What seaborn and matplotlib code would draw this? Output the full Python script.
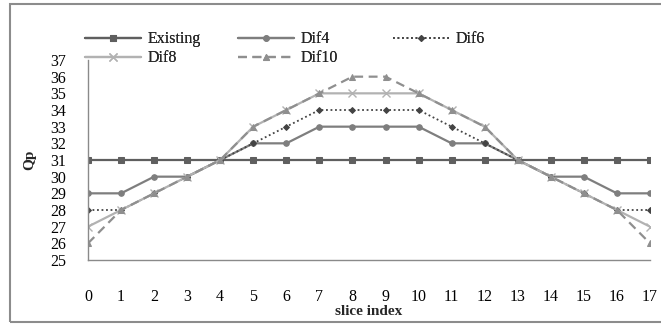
import matplotlib
matplotlib.use("Agg")
import matplotlib.pyplot as plt
import matplotlib.patches as mpatches
import seaborn as sns
import pandas as pd

slices = list(range(18))
existing = [31] * 18
dif4 = [29, 29, 30, 30, 31, 32, 32, 33, 33, 33, 33, 32, 32, 31, 30, 30, 29, 29]
dif6 = [28, 28, 29, 30, 31, 32, 33, 34, 34, 34, 34, 33, 32, 31, 30, 29, 28, 28]
dif8 = [27, 28, 29, 30, 31, 33, 34, 35, 35, 35, 35, 34, 33, 31, 30, 29, 28, 27]
dif10 = [26, 28, 29, 30, 31, 33, 34, 35, 36, 36, 35, 34, 33, 31, 30, 29, 28, 26]
y_ticks = list(range(25, 38))

sns.set_theme(style="white")
plt.rcParams["font.family"] = ["Liberation Serif", "DejaVu Serif"]

fig = plt.figure(figsize=(6.61, 3.24), dpi=100)
ax = fig.add_axes([88 / 661, (324 - 260) / 324, (650 - 88) / 661, 200 / 324])

series = [
    ("Existing", existing, dict(color="#5f5f5f", marker="s", markersize=4.5, linestyle="-", linewidth=1.6)),
    ("Dif4", dif4, dict(color="#7e7e7e", marker="o", markersize=4.0, linestyle="-", linewidth=1.6)),
    ("Dif6", dif6, dict(color="#444444", marker="D", markersize=3.0, linestyle=(0, (1, 1.5)), linewidth=1.3)),
    ("Dif8", dif8, dict(color="#b2b2b2", marker="x", markersize=5.5, markeredgewidth=1.0, linestyle="-", linewidth=1.6)),
    ("Dif10", dif10, dict(color="#8f8f8f", marker="^", markersize=4.5, linestyle=(0, (4, 2.5)), linewidth=1.6)),
]

handles = {}
for name, vals, style in series:
    df = pd.DataFrame({"slice index": slices, "Qp": vals})
    sns.lineplot(data=df, x="slice index", y="Qp", ax=ax, legend=False,
                 markeredgecolor=style["color"], **style)
    handles[name] = ax.get_lines()[-1]

ax.set_xlim(0, 17)
ax.set_ylim(25, 37)
ax.set_xticks(slices)
ax.set_yticks(y_ticks)
ax.tick_params(axis="both", length=0, labelsize=11.5, colors="#000000")
ax.tick_params(axis="x", pad=21)
ax.tick_params(axis="y", pad=16)
for side in ("top", "right"):
    ax.spines[side].set_visible(False)
for side in ("left", "bottom"):
    ax.spines[side].set_color("#8a8a8a")
    ax.spines[side].set_linewidth(1.0)
ax.set_facecolor("white")

ax.set_xlabel("slice index", fontsize=11, fontweight="bold", labelpad=0)
ax.set_ylabel("Qp", fontsize=11, fontweight="bold", labelpad=10)

legend_cols = [
    (["Existing", "Dif8"], 82),
    (["Dif4", "Dif10"], 235),
    (["Dif6"], 390),
]
for names, xpx in legend_cols:
    leg = fig.legend([handles[n] for n in names], names,
                     loc="upper left", bbox_to_anchor=(xpx / 661, 1 - 28 / 324),
                     frameon=False, fontsize=11.5, handlelength=3.5,
                     handletextpad=0.4, labelspacing=0.2, borderpad=0.2,
                     borderaxespad=0)
    fig.add_artist(leg)

frame = mpatches.Rectangle((10 / 661, 2 / 324), 1.0, (320 - 2) / 324,
                           transform=fig.transFigure, fill=False,
                           edgecolor="#8c8c8c", linewidth=1.5, clip_on=False)
fig.add_artist(frame)

fig.savefig("out.png", dpi=100, facecolor="white")
